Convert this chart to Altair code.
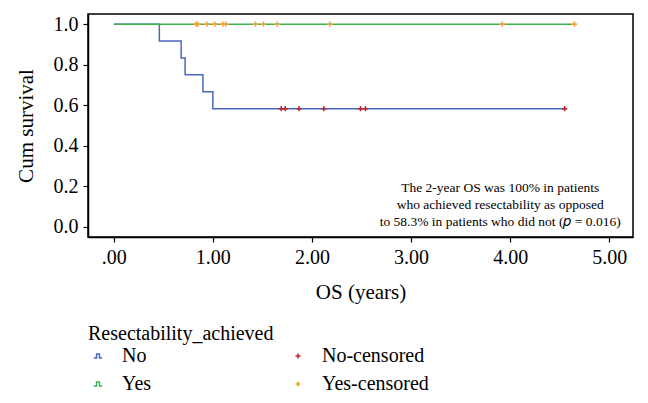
import altair as alt
import pandas as pd

# Kaplan-Meier step data
no_time = [0.0, 0.46, 0.68, 0.72, 0.90, 1.00, 4.55]
no_surv = [1.0, 0.917, 0.833, 0.75, 0.667, 0.583, 0.583]
yes_time = [0.01, 4.65]
yes_surv = [1.0, 1.0]

no_cens_time = [1.69, 1.73, 1.87, 2.12, 2.49, 2.54, 4.55]
no_cens_surv = [0.583] * len(no_cens_time)
yes_cens_time = [0.83, 0.85, 0.94, 1.02, 1.10, 1.13, 1.43, 1.51, 1.65, 2.18, 3.92, 4.65]
yes_cens_surv = [1.0] * len(yes_cens_time)

groups = ["No", "Yes", "No-censored", "Yes-censored"]
group_colors = ["#4a68bd", "#3db34a", "#c0202a", "#f6a030"]

x_ticks = [0, 1, 2, 3, 4, 5]
y_ticks = [0.0, 0.2, 0.4, 0.6, 0.8, 1.0]

note_lines = ["The 2-year OS was 100% in patients",
              "who achieved resectability as opposed",
              "to 58.3% in patients who did not (𝑝 = 0.016)"]
note_x = [3.9]
note_y = [0.228]

FONT = "Liberation Serif"

step_path = "M-1,0.5L-0.35,0.5L-0.35,-0.5L0.35,-0.5L0.35,0.5L1,0.5"
plus_path = "M-0.6,0L0.6,0M0,-0.6L0,0.6"

no_df = pd.DataFrame({"time": no_time, "surv": no_surv})
yes_df = pd.DataFrame({"time": yes_time, "surv": yes_surv})
cens_df = pd.concat([
    pd.DataFrame({"time": no_cens_time, "surv": no_cens_surv, "group": "No-censored"}),
    pd.DataFrame({"time": yes_cens_time, "surv": yes_cens_surv, "group": "Yes-censored"}),
])
note_df = pd.DataFrame({"x": note_x, "y": note_y, "text": ["\n".join(note_lines)]})

x_scale = alt.Scale(domain=[-0.26, 5.24], nice=False, zero=False)
y_scale = alt.Scale(domain=[-0.05, 1.05], nice=False, zero=False)

x_enc = alt.X("time:Q", scale=x_scale, title="OS (years)",
              axis=alt.Axis(values=x_ticks, labelFont=FONT, titleFont=FONT,
                            labelExpr="datum.value == 0 ? '.00' : format(datum.value, '.2f')",
                            grid=False))
y_enc = alt.Y("surv:Q", scale=y_scale, title="Cum survival",
              axis=alt.Axis(values=y_ticks, format=".1f", grid=False,
                            labelFont=FONT, titleFont=FONT))

no_line = alt.Chart(no_df).mark_line(interpolate="step-after", color=group_colors[0],
                                     strokeWidth=1.5).encode(x=x_enc, y=y_enc)
yes_line = alt.Chart(yes_df).mark_line(color=group_colors[1], strokeWidth=1.5).encode(
    x=alt.X("time:Q", scale=x_scale), y=alt.Y("surv:Q", scale=y_scale))

legend = alt.Legend(title="Resectability_achieved", titleFont=FONT, labelFont=FONT,
                    titleLimit=500, labelLimit=300,
                    orient="none", legendX=0, legendY=310, columns=2)

cens = alt.Chart(cens_df).mark_point(filled=False, strokeWidth=1.5, size=80, opacity=1).encode(
    x=alt.X("time:Q", scale=x_scale),
    y=alt.Y("surv:Q", scale=y_scale),
    color=alt.Color("group:N", scale=alt.Scale(domain=groups, range=group_colors),
                    legend=legend),
    shape=alt.Shape("group:N", scale=alt.Scale(domain=groups,
                                                range=[step_path, step_path, plus_path, plus_path]),
                    legend=legend),
)

note = alt.Chart(note_df).mark_text(font=FONT, fontSize=13.5, lineBreak="\n", lineHeight=17,
                                    align="center", baseline="top", color="black").encode(
    x=alt.X("x:Q", scale=x_scale), y=alt.Y("y:Q", scale=y_scale), text="text:N")

chart = alt.layer(no_line, cens.transform_filter("datum.group == 'No-censored'"),
                  yes_line, cens.transform_filter("datum.group == 'Yes-censored'"), note).properties(
    width=545, height=223,
    autosize=alt.AutoSizeParams(type="none"),
    padding={"left": 80, "top": 6, "right": 7, "bottom": 160},
).configure(font=FONT).configure_view(stroke="black", strokeWidth=1.5).configure_axis(
    domainColor="black", tickColor="black", labelColor="black", titleColor="black",
    labelFont=FONT, titleFont=FONT, labelFontSize=20, titleFontSize=21,
    titleFontWeight="normal", tickSize=5, domainWidth=1.5, tickWidth=1.2,
).configure_axisX(labelPadding=5, titlePadding=14).configure_axisY(
    labelPadding=5, titlePadding=17
).configure_legend(
    columnPadding=136,
    titleFont=FONT, labelFont=FONT, titleFontSize=20, labelFontSize=20,
    titleFontWeight="normal", titleColor="black", labelColor="black",
    symbolSize=70, symbolStrokeWidth=1.5, rowPadding=8, titlePadding=2, padding=0,
    labelOffset=14,
)

chart.save("out.html", embed_options={"renderer": "svg", "actions": False})
